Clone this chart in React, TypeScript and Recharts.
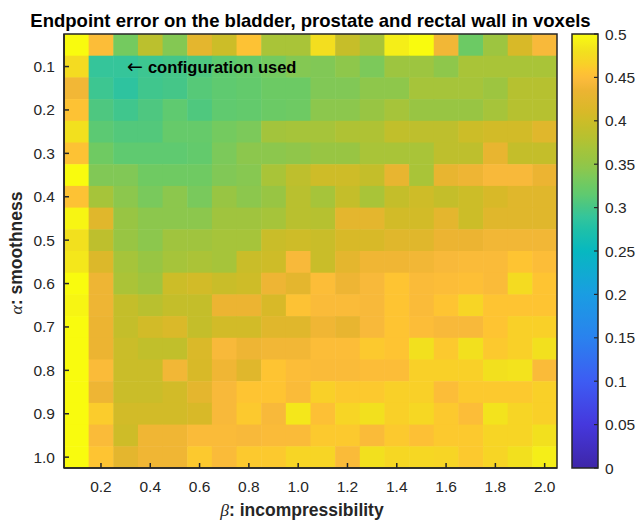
import React from "react";
import { ScatterChart, Scatter, XAxis, YAxis, ReferenceArea } from "recharts";

const betas = [
  0.1, 0.2, 0.3, 0.4, 0.5, 0.6, 0.7, 0.8, 0.9, 1.0,
  1.1, 1.2, 1.3, 1.4, 1.5, 1.6, 1.7, 1.8, 1.9, 2.0,
];
const alphas = [
  0.05, 0.1, 0.15, 0.2, 0.25, 0.3, 0.35, 0.4, 0.45, 0.5,
  0.55, 0.6, 0.65, 0.7, 0.75, 0.8, 0.85, 0.9, 0.95, 1.0,
];

// endpoint error (voxels): one row per alpha, one column per beta
const errorRows = [
  [0.5, 0.45, 0.33, 0.385, 0.34, 0.425, 0.4, 0.455, 0.37, 0.37, 0.478, 0.395, 0.37, 0.49, 0.5, 0.44, 0.325, 0.36, 0.41, 0.445],
  [0.475, 0.29, 0.29, 0.295, 0.3, 0.305, 0.315, 0.32, 0.33, 0.34, 0.338, 0.347, 0.335, 0.36, 0.36, 0.347, 0.37, 0.37, 0.37, 0.37],
  [0.44, 0.295, 0.285, 0.297, 0.3, 0.31, 0.315, 0.318, 0.325, 0.325, 0.338, 0.338, 0.347, 0.347, 0.368, 0.368, 0.368, 0.36, 0.38, 0.38],
  [0.455, 0.305, 0.297, 0.305, 0.315, 0.306, 0.316, 0.318, 0.324, 0.326, 0.345, 0.345, 0.355, 0.368, 0.355, 0.355, 0.355, 0.368, 0.38, 0.38],
  [0.48, 0.313, 0.308, 0.308, 0.32, 0.32, 0.33, 0.335, 0.365, 0.368, 0.368, 0.375, 0.375, 0.39, 0.387, 0.387, 0.4, 0.405, 0.405, 0.42],
  [0.455, 0.327, 0.315, 0.315, 0.315, 0.318, 0.335, 0.345, 0.345, 0.348, 0.355, 0.355, 0.37, 0.37, 0.37, 0.387, 0.387, 0.43, 0.393, 0.393],
  [0.5, 0.338, 0.338, 0.327, 0.327, 0.327, 0.338, 0.342, 0.37, 0.387, 0.402, 0.402, 0.393, 0.43, 0.37, 0.43, 0.437, 0.445, 0.445, 0.435],
  [0.455, 0.368, 0.345, 0.333, 0.345, 0.333, 0.355, 0.345, 0.355, 0.383, 0.368, 0.393, 0.37, 0.393, 0.402, 0.393, 0.4, 0.41, 0.42, 0.42],
  [0.495, 0.42, 0.355, 0.345, 0.345, 0.345, 0.362, 0.362, 0.368, 0.383, 0.38, 0.425, 0.425, 0.405, 0.405, 0.425, 0.4, 0.42, 0.42, 0.42],
  [0.48, 0.387, 0.355, 0.345, 0.362, 0.362, 0.368, 0.368, 0.397, 0.402, 0.397, 0.41, 0.41, 0.42, 0.42, 0.435, 0.435, 0.44, 0.44, 0.44],
  [0.485, 0.415, 0.368, 0.355, 0.368, 0.372, 0.368, 0.397, 0.402, 0.445, 0.397, 0.425, 0.438, 0.438, 0.44, 0.445, 0.447, 0.447, 0.457, 0.45],
  [0.5, 0.437, 0.372, 0.362, 0.4, 0.405, 0.397, 0.402, 0.437, 0.425, 0.45, 0.437, 0.445, 0.457, 0.448, 0.45, 0.452, 0.448, 0.475, 0.457],
  [0.495, 0.437, 0.393, 0.383, 0.393, 0.393, 0.435, 0.435, 0.41, 0.455, 0.447, 0.447, 0.445, 0.457, 0.448, 0.457, 0.47, 0.457, 0.457, 0.457],
  [0.5, 0.435, 0.393, 0.405, 0.412, 0.393, 0.405, 0.405, 0.42, 0.42, 0.438, 0.43, 0.445, 0.457, 0.45, 0.445, 0.445, 0.457, 0.465, 0.465],
  [0.5, 0.435, 0.398, 0.39, 0.39, 0.412, 0.445, 0.437, 0.44, 0.44, 0.45, 0.45, 0.46, 0.457, 0.48, 0.46, 0.48, 0.46, 0.465, 0.48],
  [0.5, 0.448, 0.398, 0.398, 0.44, 0.41, 0.438, 0.42, 0.457, 0.45, 0.448, 0.448, 0.45, 0.45, 0.465, 0.465, 0.465, 0.48, 0.482, 0.448],
  [0.5, 0.437, 0.398, 0.398, 0.405, 0.425, 0.445, 0.457, 0.457, 0.448, 0.465, 0.46, 0.46, 0.465, 0.465, 0.45, 0.46, 0.46, 0.46, 0.465],
  [0.5, 0.462, 0.405, 0.405, 0.405, 0.41, 0.445, 0.46, 0.445, 0.485, 0.453, 0.47, 0.48, 0.465, 0.472, 0.46, 0.45, 0.482, 0.47, 0.465],
  [0.5, 0.448, 0.402, 0.438, 0.438, 0.448, 0.448, 0.445, 0.448, 0.448, 0.46, 0.46, 0.448, 0.46, 0.453, 0.46, 0.46, 0.47, 0.47, 0.48],
  [0.5, 0.457, 0.425, 0.438, 0.438, 0.46, 0.448, 0.46, 0.46, 0.47, 0.47, 0.448, 0.48, 0.472, 0.472, 0.47, 0.46, 0.47, 0.48, 0.49],
];

const xTicks = [0.2, 0.4, 0.6, 0.8, 1.0, 1.2, 1.4, 1.6, 1.8, 2.0];
const yTicks = [0.1, 0.2, 0.3, 0.4, 0.5, 0.6, 0.7, 0.8, 0.9, 1.0];
const cbarTicks = [0, 0.05, 0.1, 0.15, 0.2, 0.25, 0.3, 0.35, 0.4, 0.45, 0.5];

// parula-like colormap, value -> colour
const cmap: [number, string][] = [
  [0.0, "#3e26a8"],
  [0.05, "#4538dd"],
  [0.1, "#3d5cf3"],
  [0.15, "#2a82ee"],
  [0.2, "#1a9de2"],
  [0.25, "#07b8c0"],
  [0.275, "#1fc0a8"],
  [0.29, "#35c59a"],
  [0.3, "#45c688"],
  [0.315, "#5fca70"],
  [0.325, "#6cca64"],
  [0.335, "#7cc95a"],
  [0.345, "#8cc74d"],
  [0.355, "#98c543"],
  [0.368, "#a6c43a"],
  [0.38, "#b6c130"],
  [0.393, "#c4be2a"],
  [0.4, "#ccbd28"],
  [0.41, "#d8b928"],
  [0.42, "#e0b72c"],
  [0.435, "#ecb432"],
  [0.445, "#f8b93a"],
  [0.45, "#fcbd38"],
  [0.457, "#fec432"],
  [0.465, "#f9d028"],
  [0.48, "#f2e01e"],
  [0.49, "#f5ee18"],
  [0.5, "#f9fb0e"],
];

const hexToRgb = (h: string) => [
  parseInt(h.slice(1, 3), 16),
  parseInt(h.slice(3, 5), 16),
  parseInt(h.slice(5, 7), 16),
];

const colorAt = (v: number) => {
  if (v <= cmap[0][0]) return cmap[0][1];
  for (let i = 1; i < cmap.length; i++) {
    if (v <= cmap[i][0]) {
      const [v0, c0] = cmap[i - 1];
      const [v1, c1] = cmap[i];
      const t = (v - v0) / (v1 - v0);
      const a = hexToRgb(c0);
      const b = hexToRgb(c1);
      const m = a.map((x, k) => Math.round(x + (b[k] - x) * t));
      return `rgb(${m[0]},${m[1]},${m[2]})`;
    }
  }
  return cmap[cmap.length - 1][1];
};

const cells = alphas.flatMap((alpha, i) =>
  betas.map((beta, j) => ({ beta, alpha, err: errorRows[i][j] }))
);

const FONT = "'Liberation Sans', Arial, Helvetica, sans-serif";
const SERIF = "'Liberation Serif', 'Times New Roman', serif";
const AXIS = "#262626";
const W = 639;
const H = 521;

// plot box
const LEFT = 64;
const TOP = 34;
const RIGHT = 557;
const BOTTOM = 468;
const cellW = (RIGHT - LEFT) / betas.length;
const cellH = (BOTTOM - TOP) / alphas.length;

// colorbar box
const CB_LEFT = 572;
const CB_RIGHT = 598;

const renderCell = (p: any) => (
  <rect
    x={p.cx - cellW / 2}
    y={p.cy - cellH / 2}
    width={cellW + 0.5}
    height={cellH + 0.5}
    fill={colorAt(p.payload.err)}
  />
);

const noLabel = () => <g />;
const tickStyle = { fill: AXIS, fontSize: 15.5, fontFamily: FONT };
const plotMargin = { top: TOP, right: W - RIGHT, bottom: 0, left: LEFT - 50 };
const cbMargin = { top: TOP, right: W - CB_RIGHT - 41, bottom: H - BOTTOM, left: CB_LEFT };

// overlay=false: tick labels only; overlay=true: box and inward ticks only
const plotAxes = (overlay: boolean) => [
  <XAxis
    key="xb"
    xAxisId="b"
    type="number"
    dataKey="beta"
    domain={[0.05, 2.05]}
    allowDataOverflow
    ticks={xTicks}
    tickFormatter={(v: number) => v.toFixed(1)}
    height={H - BOTTOM}
    tickSize={-5}
    tickMargin={18}
    tick={overlay ? noLabel : tickStyle}
    tickLine={overlay}
    axisLine={overlay}
    stroke={AXIS}
    strokeWidth={1.5}
  />,
  <XAxis
    key="xt"
    xAxisId="t"
    orientation="top"
    type="number"
    domain={[0.05, 2.05]}
    allowDataOverflow
    ticks={xTicks}
    height={0}
    tickSize={-5}
    tick={noLabel}
    tickLine={overlay}
    axisLine={overlay}
    stroke={AXIS}
    strokeWidth={1.5}
  />,
  <YAxis
    key="ya"
    yAxisId="a"
    type="number"
    dataKey="alpha"
    domain={[0.025, 1.025]}
    allowDataOverflow
    reversed
    ticks={yTicks}
    tickFormatter={(v: number) => v.toFixed(1)}
    width={50}
    tickSize={-5}
    tickMargin={14}
    tick={overlay ? noLabel : tickStyle}
    tickLine={overlay}
    axisLine={overlay}
    stroke={AXIS}
    strokeWidth={1.5}
  />,
  <YAxis
    key="yr"
    yAxisId="r"
    orientation="right"
    type="number"
    domain={[0.025, 1.025]}
    allowDataOverflow
    reversed
    ticks={yTicks}
    width={0}
    tickSize={-5}
    tick={noLabel}
    tickLine={overlay}
    axisLine={overlay}
    stroke={AXIS}
    strokeWidth={1.5}
  />,
];

const cbAxes = (overlay: boolean) => [
  <XAxis key="cx" type="number" dataKey="x" domain={[0, 1]} hide allowDataOverflow />,
  <YAxis
    key="cy"
    type="number"
    dataKey="y"
    orientation="right"
    domain={[0, 0.5]}
    allowDataOverflow
    ticks={cbarTicks}
    tickFormatter={(v: number) => String(Math.round(v * 100) / 100)}
    width={41}
    tickSize={-4}
    tickMargin={11}
    tick={overlay ? noLabel : tickStyle}
    tickLine={overlay}
    axisLine={false}
    stroke={AXIS}
    strokeWidth={1.2}
  />,
];

const layer: React.CSSProperties = { position: "absolute", left: 0, top: 0 };

const App: React.FC = () => {
  return (
    <div style={{ position: "absolute", left: 0, top: 0, width: W, height: H, background: "#fff" }}>
      <div style={layer}>
        <ScatterChart width={W} height={H} margin={plotMargin}>
          <Scatter
            data={cells}
            xAxisId="b"
            yAxisId="a"
            dataKey="alpha"
            shape={renderCell}
            isAnimationActive={false}
          />
          {plotAxes(false)}
          <text
            x={(LEFT + RIGHT) / 2}
            y={26.5}
            textAnchor="middle"
            fontSize={18.5}
            fontWeight="bold"
            fontFamily={FONT}
            fill="#000"
          >
            Endpoint error on the bladder, prostate and rectal wall in voxels
          </text>
          <text x={302} y={516} textAnchor="middle" fontSize={17.5} fontFamily={FONT} fill={AXIS}>
            <tspan fontStyle="italic" fontFamily={SERIF}>β</tspan>
            <tspan fontWeight="bold">: incompressibility</tspan>
          </text>
          <text
            x={22}
            y={253}
            transform="rotate(-90 22 253)"
            textAnchor="middle"
            fontSize={17.5}
            fontFamily={FONT}
            fill={AXIS}
          >
            <tspan fontStyle="italic" fontFamily={SERIF}>α</tspan>
            <tspan fontWeight="bold">: smoothness</tspan>
          </text>
        </ScatterChart>
      </div>
      <div style={layer}>
        <ScatterChart width={W} height={H} margin={plotMargin}>
          {plotAxes(true)}
          <ReferenceArea
            xAxisId="b"
            yAxisId="a"
            x1={0.05}
            x2={2.05}
            y1={0.025}
            y2={1.025}
            fill="none"
            stroke={AXIS}
            strokeWidth={1.5}
            ifOverflow="visible"
          />
          <text x={127} y={73} fontSize={16.5} fontFamily={FONT} fill="#000">
            <tspan fontFamily="'DejaVu Sans', sans-serif" fontSize={19}>
              {"\u2190"}
            </tspan>
            <tspan dx={5} fontWeight="bold">configuration used</tspan>
          </text>
        </ScatterChart>
      </div>
      <div style={layer}>
        <ScatterChart width={W} height={H} margin={cbMargin}>
          <defs>
            <linearGradient id="parulaBar" x1="0" y1="1" x2="0" y2="0">
              {cmap.map(([v, c]) => (
                <stop key={v} offset={`${(v / 0.5) * 100}%`} stopColor={c} />
              ))}
            </linearGradient>
          </defs>
          {cbAxes(false)}
          <ReferenceArea
            x1={0}
            x2={1}
            y1={0}
            y2={0.5}
            fill="url(#parulaBar)"
            fillOpacity={1}
            stroke={AXIS}
            strokeWidth={1.5}
            ifOverflow="visible"
          />
        </ScatterChart>
      </div>
      <div style={layer}>
        <ScatterChart width={W} height={H} margin={cbMargin}>
          {cbAxes(true)}
        </ScatterChart>
      </div>
    </div>
  );
};

export default App;
